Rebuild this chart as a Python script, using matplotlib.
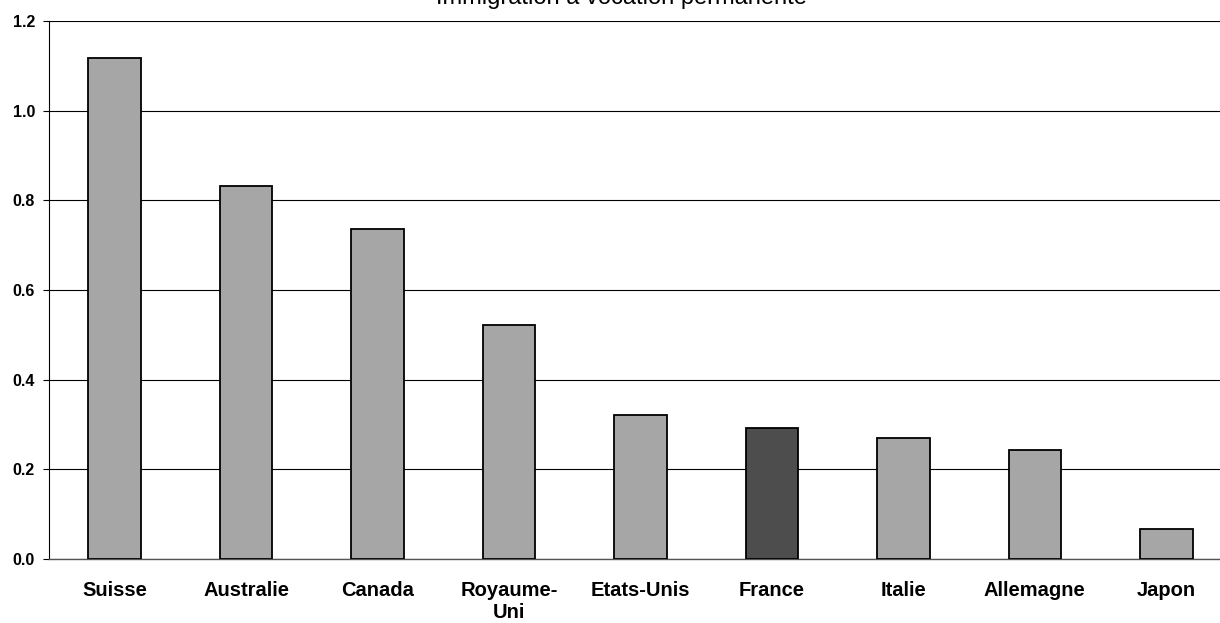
import matplotlib.pyplot as plt
import numpy as np

plt.rcParams['font.family'] = ['Liberation Sans', 'DejaVu Sans']

# Immigration à vocation permanente
countries = ['Suisse', 'Australie', 'Canada', 'Royaume-\nUni', 'Etats-Unis',
             'France', 'Italie', 'Allemagne', 'Japon']
values = [1.117, 0.831, 0.737, 0.521, 0.322, 0.293, 0.270, 0.244, 0.067]
highlight = 'France'
yticks = [0.0, 0.2, 0.4, 0.6, 0.8, 1.0, 1.2]

W, H = 1220, 623
fig = plt.figure(figsize=(W / 100, H / 100), dpi=100)
# the original chart is cropped on the right, so the axes run past the edge
ax = fig.add_axes([49 / W, 1 - 559 / H, 1183 / W, 538 / H])

colors = ['#4D4D4D' if c == highlight else '#A6A6A6' for c in countries]
x = np.arange(len(countries))
ax.bar(x, values, width=0.40, color=colors, edgecolor='black',
       linewidth=1.3, zorder=3)

ax.set_xlim(-0.5, len(countries) - 0.5)
ax.set_ylim(0, 1.2)
ax.set_yticks(yticks)
ax.set_yticklabels([f'{v:.1f}' for v in yticks], fontsize=11.5, fontweight='bold')
ax.set_xticks(x)
ax.set_xticklabels(countries, fontsize=14.5, fontweight='bold', linespacing=1.2)
ax.tick_params(axis='x', length=0, pad=16)
ax.tick_params(axis='y', length=4, width=0.8, direction='out', pad=6)

ax.grid(axis='y', color='black', linewidth=0.8, zorder=0)
for side in ['top', 'right']:
    ax.spines[side].set_visible(False)
ax.spines['left'].set_linewidth(0.8)
ax.spines['bottom'].set_linewidth(1.0)
ax.spines['bottom'].set_color('#555555')

# titre partiellement coupé en haut de l'image (comme sur l'original)
fig.text(621 / W, 1 - 4 / H, 'Immigration à vocation permanente',
         ha='center', va='baseline', fontsize=17)

fig.savefig('out.png', dpi=100)
